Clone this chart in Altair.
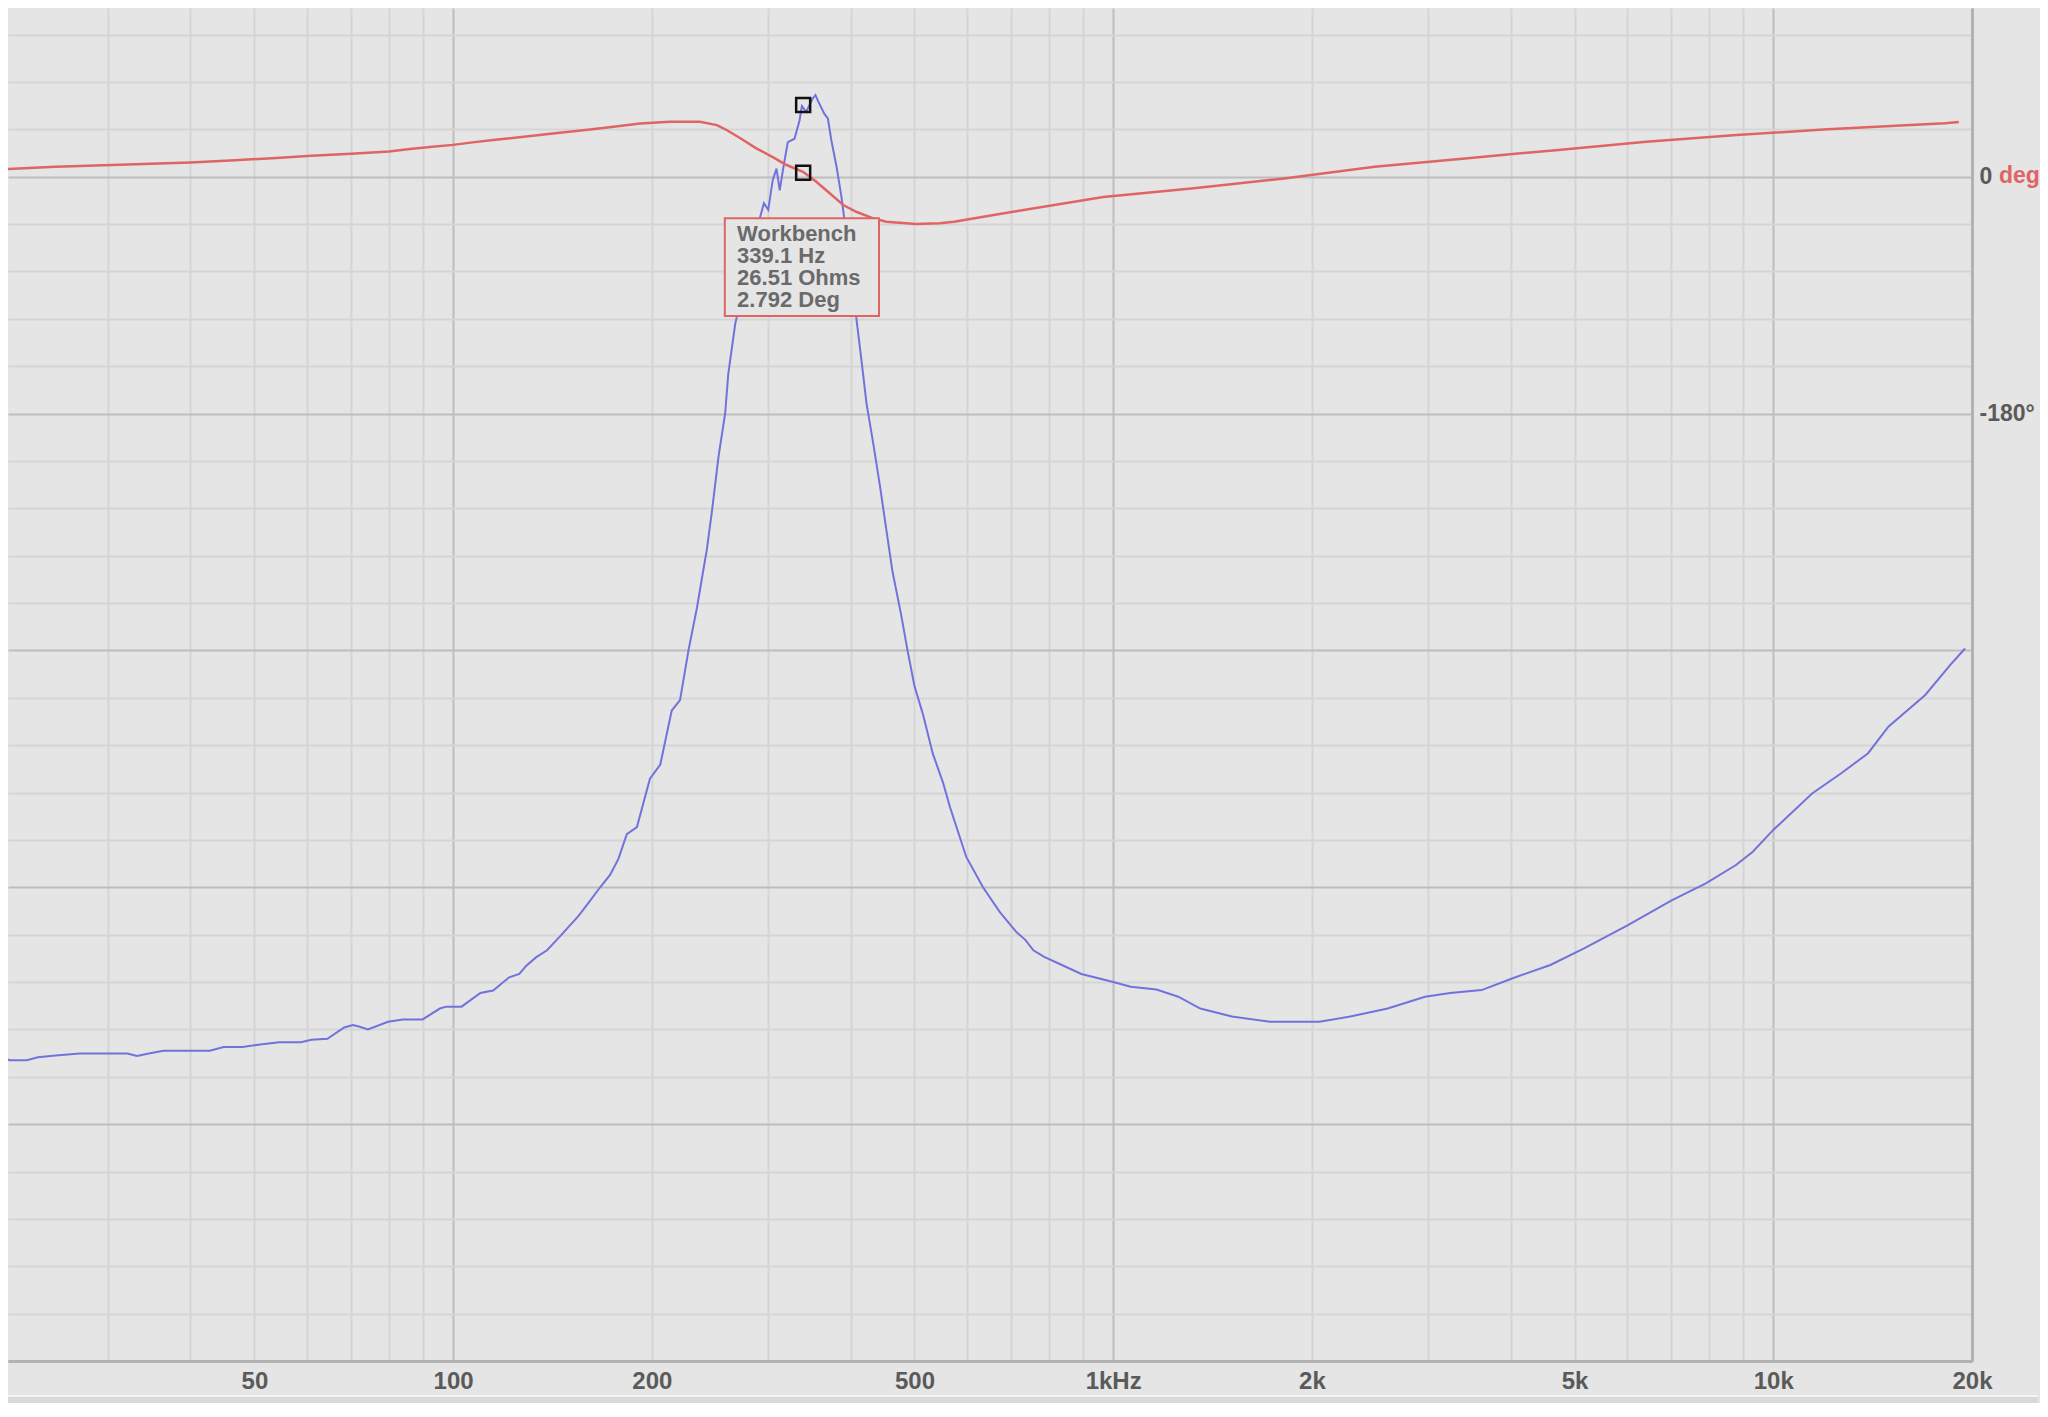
import altair as alt
import pandas as pd

# ---------------- data ----------------
imp_freq = [20.6, 21.3, 22.6, 23.5, 25.0, 27.2, 32.1, 33.2, 34.6, 36.4,
            42.8, 44.9, 48.0, 51.0, 54.5, 58.8, 61.0, 64.5, 68.4, 70.5,
            72.0, 74.3, 79.7, 83.9, 89.9, 95.5, 97.6, 103, 110, 115,
            121.6, 126, 129, 133.5, 138.8, 146, 155, 161, 167, 172.9,
            178, 183.3, 189.9, 198.7, 206, 214.4, 220.7, 227.3, 234.2, 239.2,
            242.3, 246.8, 252.4, 258.3, 261.2, 267.6, 275, 283, 292, 295.7,
            300.2, 305, 309, 312.5, 316, 321.4, 329, 334.9, 337.6, 342.7,
            346.6, 350.6, 354, 356.8, 365, 369.6, 374, 381, 387.5, 391,
            398, 408, 415.5, 423, 433, 443.5, 453, 463, 477, 488,
            500, 515, 533, 552, 566, 599, 635, 673, 714, 736,
            757, 786, 833, 895, 1000, 1063, 1163, 1255, 1355, 1513,
            1728, 2053, 2286, 2605, 2968, 3240, 3615, 4030, 4595, 5168,
            6023, 7025, 7904, 8780, 9310, 10000, 11450, 12660, 13920, 14940,
            16990, 18530, 19520]
imp_ohms = [6.41, 6.35, 6.35, 6.41, 6.45, 6.49, 6.49, 6.44, 6.49, 6.55,
            6.55, 6.63, 6.63, 6.68, 6.73, 6.73, 6.78, 6.80, 7.04, 7.09,
            7.06, 7.00, 7.16, 7.21, 7.21, 7.44, 7.48, 7.48, 7.77, 7.82,
            8.10, 8.17, 8.34, 8.52, 8.67, 9.0, 9.4, 9.7, 10.0, 10.26,
            10.6, 11.12, 11.27, 12.29, 12.59, 13.73, 13.95, 15.0, 15.91, 16.67,
            17.12, 17.96, 19.09, 20.0, 20.85, 21.9, 22.6, 23.4, 24.16, 24.44,
            24.3, 24.93, 25.17, 24.71, 25.14, 25.73, 25.8, 26.19, 26.49, 26.37,
            26.51, 26.65, 26.72, 26.61, 26.33, 26.23, 25.78, 25.21, 24.58, 24.16,
            23.2, 22.04, 21.13, 20.21, 19.37, 18.45, 17.57, 16.67, 15.77, 15.0,
            14.25, 13.65, 12.82, 12.22, 11.69, 10.64, 10.0, 9.48, 9.05, 8.89,
            8.67, 8.53, 8.37, 8.17, 8.0, 7.9, 7.84, 7.69, 7.44, 7.27,
            7.16, 7.16, 7.27, 7.44, 7.69, 7.77, 7.83, 8.08, 8.36, 8.71,
            9.2, 9.73, 10.08, 10.47, 10.75, 11.21, 11.98, 12.4, 12.83, 13.39,
            14.06, 14.69, 15.04]

ph_freq = [20.6, 25, 33, 40, 46, 54, 61, 70, 80, 86,
           93, 100, 107, 115, 145, 160, 175, 192, 213, 236.6,
           251, 259.6, 272.4, 288, 305.5, 320, 339, 355, 372, 390,
           408, 433, 453, 503, 546, 574, 705, 966, 1325, 1815,
           2489, 3413, 4680, 6420, 8800, 12080, 18200, 19100]
ph_deg = [5.4, 7.4, 9.2, 10.7, 12.2, 14.0, 15.7, 17.3, 19.0, 20.8,
          22.6, 24.0, 25.9, 27.7, 33.2, 35.5, 37.7, 40.3, 41.6, 41.6,
          39.0, 35.3, 29.0, 21.4, 14.5, 8.7, 3.6, -4.0, -12.8, -21.7,
          -26.8, -31.8, -34.4, -36.2, -35.6, -34.4, -26.8, -15.6, -9.0, -1.5,
          7.4, 13.7, 20.0, 26.4, 31.5, 35.8, 40.5, 41.3]

# cursor readout
cursor_name = "Workbench"
cursor_freq = 339.1
cursor_ohms = 26.51
cursor_deg = 2.792

# axis ticks
x_ticks = [30, 40, 50, 60, 70, 80, 90, 100, 200, 300, 400, 500, 600, 700, 800, 900,
           1000, 2000, 3000, 4000, 5000, 6000, 7000, 8000, 9000, 10000, 20000]
x_tick_labels = {50: "50", 100: "100", 200: "200", 500: "500", 1000: "1kHz",
                 2000: "2k", 5000: "5k", 10000: "10k", 20000: "20k"}
x_major = [100, 1000, 10000]
z_ticks = list(range(0, 29))
ph_ticks = [0, -180]
ph_tick_labels = {0: "0", -180: "-180°"}

# ---------------- style ----------------
BG = "#e5e5e5"
GRID_MINOR = "#d5d5d5"
GRID_MAJOR = "#bdbdbd"
BORDER = "#b2b2b2"
LABEL = "#5a5a5a"
BLUE = "#7272dc"
RED = "#e06464"
FONT = "Liberation Sans"

W, H = 1964, 1353
X_DOMAIN = [21.17, 20000]
Z_DOMAIN = [0, 28.56]
P_DOMAIN = [-900, 128]

imp_df = pd.DataFrame({"f": imp_freq, "z": imp_ohms})
ph_df = pd.DataFrame({"f": ph_freq, "p": ph_deg})


def expr_map(mapping, default="''"):
    parts = [f"datum.value == {k} ? '{v}'" for k, v in mapping.items()]
    return " : ".join(parts) + " : " + default


x_axis = alt.Axis(
    values=x_ticks,
    labelExpr=expr_map(x_tick_labels),
    labelOverlap=False,
    labelFont=FONT, labelFontSize=24, labelFontWeight="bold", labelColor=LABEL,
    labelPadding=8, labelFlush=False,
    ticks=False, tickSize=0,
    domain=True, domainColor=BORDER, domainWidth=3,
    grid=True,
    gridColor={"condition": {"test": " || ".join(f"datum.value == {v}" for v in x_major),
                             "value": GRID_MAJOR}, "value": GRID_MINOR},
    gridWidth=2,
    title=None,
)
x_scale = alt.Scale(type="log", domain=X_DOMAIN, nice=False, zero=False)


def X(field="f"):
    return alt.X(f"{field}:Q", scale=x_scale, axis=x_axis)


z_scale = alt.Scale(domain=Z_DOMAIN, nice=False, zero=False)
p_scale = alt.Scale(domain=P_DOMAIN, nice=False, zero=False)

z_axis = alt.Axis(
    values=z_ticks, labels=False, ticks=False, tickSize=0, domain=False, title=None,
    grid=True, orient="left",
    gridColor={"condition": {"test": "datum.value % 5 == 0", "value": GRID_MAJOR},
               "value": GRID_MINOR},
    gridWidth=2,
)
p_axis = alt.Axis(
    values=ph_ticks, labelExpr=expr_map(ph_tick_labels), orient="right",
    labelFont=FONT, labelFontSize=23, labelFontWeight="bold", labelColor=LABEL,
    labelPadding=7, ticks=False, tickSize=0, grid=False,
    domain=True, domainColor=BORDER, domainWidth=3, title=None,
)

imp_line = alt.Chart(imp_df).mark_line(color=BLUE, strokeWidth=2, clip=True).encode(
    x=X(), y=alt.Y("z:Q", scale=z_scale, axis=z_axis)
)
ph_line = alt.Chart(ph_df).mark_line(color=RED, strokeWidth=2.5, clip=True).encode(
    x=X(), y=alt.Y("p:Q", scale=p_scale, axis=p_axis)
)

# cursor readout box (annotation, in data units)
box_df = pd.DataFrame({"f": [258.0], "f2": [441.8], "z": [24.12], "z2": [22.06]})
box = alt.Chart(box_df).mark_rect(fill=BG, stroke=RED, strokeWidth=2).encode(
    x=X(), x2="f2:Q",
    y=alt.Y("z:Q", scale=z_scale, axis=None), y2="z2:Q",
)
readout = "\n".join([cursor_name, f"{cursor_freq} Hz", f"{cursor_ohms} Ohms", f"{cursor_deg} Deg"])
txt_df = pd.DataFrame({"f": [269.3], "z": [23.80], "t": [readout]})
box_text = alt.Chart(txt_df).mark_text(
    align="left", baseline="middle", lineBreak="\n", lineHeight=22.2,
    font=FONT, fontSize=22, fontWeight="bold", color="#6a6a6a",
).encode(x=X(), y=alt.Y("z:Q", scale=z_scale, axis=None), text="t:N")

cur_z = alt.Chart(pd.DataFrame({"f": [cursor_freq], "z": [cursor_ohms]})).mark_point(
    shape="square", filled=False, size=196, strokeWidth=2.5, color="#111111", opacity=1
).encode(x=X(), y=alt.Y("z:Q", scale=z_scale, axis=None))
cur_p = alt.Chart(pd.DataFrame({"f": [cursor_freq], "p": [cursor_deg]})).mark_point(
    shape="square", filled=False, size=196, strokeWidth=2.5, color="#111111", opacity=1
).encode(x=X(), y=alt.Y("p:Q", scale=p_scale, axis=None))

deg_txt = alt.Chart(pd.DataFrame({"f": [20000], "p": [0], "t": ["deg"]})).mark_text(
    align="left", baseline="middle", dx=27, font=FONT, fontSize=23, fontWeight="bold",
    color=RED,
).encode(x=X(), y=alt.Y("p:Q", scale=p_scale, axis=None), text="t:N")

# window frame band below the axis labels
band_line = alt.Chart(pd.DataFrame({"k": [0]})).mark_rect(color="#f4f4f4").encode(
    x=alt.value(0), x2=alt.value(2030), y=alt.value(1387), y2=alt.value(1389)
)
band = alt.Chart(pd.DataFrame({"k": [0]})).mark_rect(color="#d9d9d9").encode(
    x=alt.value(0), x2=alt.value(2030), y=alt.value(1389), y2=alt.value(1395)
)

chart = alt.layer(
    imp_line, ph_line, box, box_text, cur_z, cur_p, deg_txt, band_line, band
).resolve_scale(y="independent").properties(
    width=W, height=H, background=BG, padding=0
).configure_view(stroke=None)

chart.save("out.html", embed_options={"renderer": "svg", "actions": False})
